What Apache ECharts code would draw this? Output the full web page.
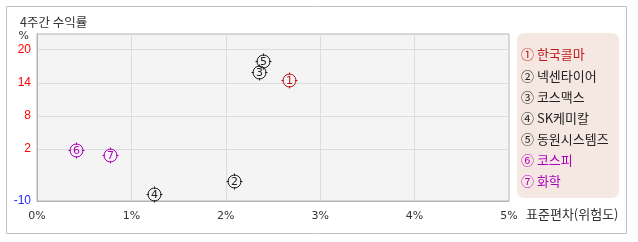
<!DOCTYPE html>
<html><head><meta charset="utf-8">
<script src="https://cdn.jsdelivr.net/npm/echarts@6/dist/echarts.min.js"></script>
<style>html,body{margin:0;padding:0;background:#fff}#c{width:638px;height:242px}</style>
</head><body><div id="c"></div>
<script>
var titleText = '4주간 수익률';
var names = ['한국콜마','넥센타이어','코스맥스','SK케미칼','동원시스템즈','코스피','화학'];
var circled = ['①','②','③','④','⑤','⑥','⑦'];
var markerNums = ['1','2','3','4','5','6','7'];
var riskValues = [2.67, 2.09, 2.35, 1.24, 2.39, 0.41, 0.77];   // 표준편차 %
var returnValues = [14.5, -3.9, 16.0, -6.1, 18.0, 1.8, 0.9];   // 4주간 수익률 %
var colors = ['#c01818','#222222','#222222','#222222','#222222','#b000c0','#b000c0'];
var yTickValues = [2, 8, 14, 20];
var yBottomLabel = '-10';
var yMin = -7.45, yMax = 22.85;
var xTickLabels = ['0%','1%','2%','3%','4%','5%'];

var font = '"Noto Sans CJK KR", "Noto Sans", sans-serif';
var data = riskValues.map(function(x, i){ return [x, returnValues[i], i]; });

var legendTexts = names.map(function(n, i){
  return {type:'text', left:521, top:55 + i*21.1 - 7,
    style:{text: circled[i] + ' ' + n, fill: colors[i], font:'13px ' + font}};
});

var chart = echarts.init(document.getElementById('c'), null, {renderer:'canvas'});
chart.setOption({
  animation:false,
  title:{text:titleText, left:15, top:11, textStyle:{fontSize:12.5, fontWeight:'normal', color:'#333', fontFamily:font}},
  grid:{left:37, right:129, top:34, bottom:41, show:true, backgroundColor:'#f4f4f4', borderColor:'#b4b4b4', borderWidth:1},
  xAxis:{type:'value', min:0, max:5, interval:1,
    name:'표준편차(위험도)', nameLocation:'end', nameGap:17,
    nameTextStyle:{fontSize:13, color:'#333', fontFamily:font, verticalAlign:'top', padding:[7,0,0,0]},
    axisLine:{show:true, onZero:false, lineStyle:{color:'#b4b4b4'}}, axisTick:{show:false},
    axisLabel:{margin:10, fontSize:11, color:'#333', fontFamily:'"DejaVu Sans", sans-serif',
      formatter:function(v){ return xTickLabels[Math.round(v)]; }},
    splitLine:{show:true, lineStyle:{color:'#dcdcdc'}}},
  yAxis:{type:'value', min:yMin, max:yMax,
    name:'%', nameLocation:'end', nameGap:-2,
    nameTextStyle:{fontSize:11, color:'#333', align:'right', verticalAlign:'middle', padding:[0,8,0,0], fontFamily:'"DejaVu Sans", sans-serif'},
    axisLine:{show:true, onZero:false, lineStyle:{color:'#b4b4b4'}},
    axisTick:{show:false, customValues:[yMin].concat(yTickValues)},
    axisLabel:{margin:6, fontSize:12, fontFamily:'"Liberation Sans", Arial, sans-serif',
      customValues:[yMin].concat(yTickValues),
      formatter:function(v){ return Math.abs(v - yMin) < 0.01 ? '{b|' + yBottomLabel + '}' : '{r|' + Math.round(v) + '}'; },
      rich:{r:{color:'#ff0000', fontSize:12}, b:{color:'#2a2aff', fontSize:12}}},
    splitLine:{show:true, lineStyle:{color:'#dcdcdc'}}},
  graphic:[
    {type:'rect', shape:{x:6.5, y:6.5, width:620, height:227}, style:{fill:'none', stroke:'#c0c0c0', lineWidth:1}, z:-10},
    {type:'rect', shape:{x:517, y:33, width:102, height:165, r:7}, style:{fill:'#f5e8e2', stroke:'none'}, z:-5}
  ].concat(legendTexts),
  series:[{
    type:'custom',
    data:data,
    clip:false,
    renderItem:function(params, api){
      var p = api.coord([api.value(0), api.value(1)]);
      var i = api.value(2);
      var c = colors[i];
      var x = Math.round(p[0]) + 0.5, y = Math.round(p[1]) + 0.5, r = 6.5;
      return {type:'group', children:[
        {type:'circle', shape:{cx:x, cy:y, r:r}, style:{fill:'none', stroke:c, lineWidth:1}},
        {type:'line', shape:{x1:x, y1:y-r-1.5, x2:x, y2:y-r+1}, style:{stroke:c, lineWidth:1}},
        {type:'line', shape:{x1:x, y1:y+r+1.5, x2:x, y2:y+r-1}, style:{stroke:c, lineWidth:1}},
        {type:'line', shape:{x1:x-r-1.5, y1:y, x2:x-r+1, y2:y}, style:{stroke:c, lineWidth:1}},
        {type:'line', shape:{x1:x+r+1.5, y1:y, x2:x+r-1, y2:y}, style:{stroke:c, lineWidth:1}},
        {type:'text', style:{text:markerNums[i], x:x, y:y+0.5, align:'center', verticalAlign:'middle', fill:c, font:'11px "DejaVu Sans", sans-serif'}}
      ]};
    }
  }]
});
</script></body></html>
